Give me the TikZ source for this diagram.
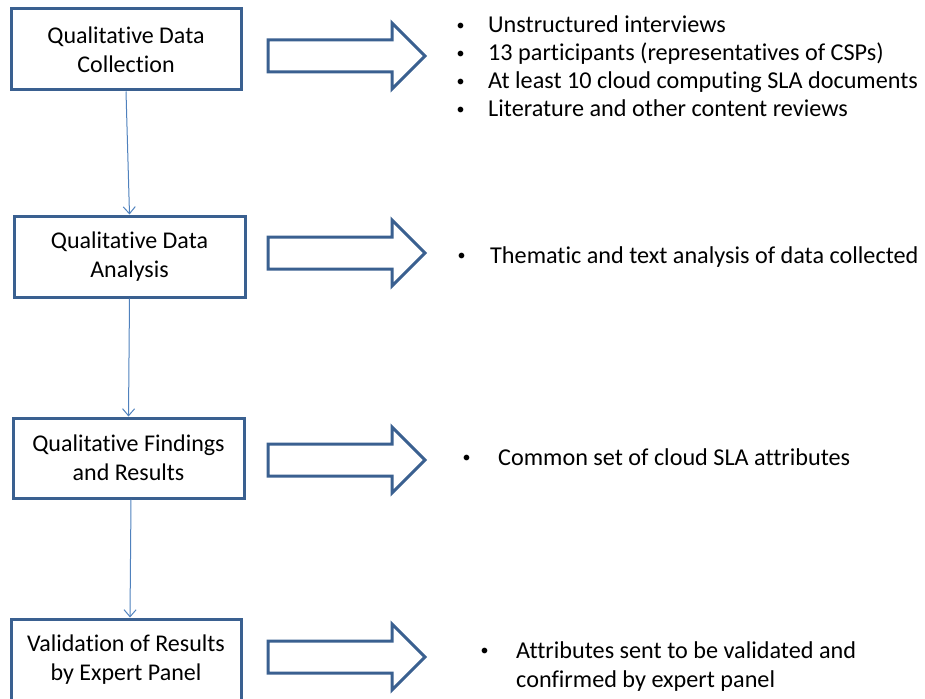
\documentclass[tikz,border=0pt]{standalone}
\usepackage{fontspec}
\setmainfont[Ligatures=NoCommon]{Carlito}
\usetikzlibrary{arrows.meta}
\definecolor{boxline}{HTML}{3A6090}
\definecolor{linkline}{HTML}{4F81BD}
\tikzset{
  stagebox/.style={draw=boxline, line width=3pt, fill=white, align=center,
    inner sep=0pt, font=\fontsize{24}{29}\selectfont},
  link/.style={draw=linkline, line width=1pt, -{Straight Barb[length=7pt,width=12pt]}},
  itemtext/.style={anchor=base west, inner sep=0pt, font=\fontsize{24.2}{29}\selectfont},
  blockarrow/.pic={
    \draw[boxline, line width=3pt, line join=miter, fill=white]
      (268,-16) -- (392,-16) -- (392,-33) -- (425,0) -- (392,33) -- (392,16) -- (268,16) -- cycle;
  }
}
% small bullet set to the left of an item, #1 = distance from bullet to text
\newcommand{\bul}[1]{\llap{\makebox[#1][l]{\raisebox{2.6pt}{\fontsize{16}{16}\selectfont •}}}}
\begin{document}
\begin{tikzpicture}[x=1pt, y=-1pt]
\useasboundingbox (0,0) rectangle (925,698);

% process stages
\node[stagebox, minimum width=230pt, minimum height=81pt] (b1) at (126,49.5)
  {Qualitative Data\\Collection};
\node[stagebox, minimum width=231pt, minimum height=81pt] (b2) at (129.5,256.5)
  {Qualitative Data\\Analysis};
\node[stagebox, minimum width=231pt, minimum height=80pt] (b3) at (128.5,458)
  {Qualitative Findings\\and Results};
\node[stagebox, minimum width=230pt, minimum height=82pt] (b4) at (126,660)
  {Validation of Results\\by Expert Panel};

% flow between stages
\draw[link] (b1.south) -- (b2.north);
\draw[link] (b2.south) -- (b3.north);
\draw[link] ([xshift=2.5pt]b3.south) -- ([xshift=4pt]b4.north);

% block arrows toward the notes
\pic at (0,56) {blockarrow};
\pic at (0,253) {blockarrow};
\pic at (0,460) {blockarrow};
\pic at (0,657) {blockarrow};

% notes for each stage
\node[itemtext] (n11) at (488,33) {\bul{31.5pt}Unstructured interviews};
\node[itemtext] (n12) at (488,61) {\bul{31.5pt}13 participants (representatives of CSPs)};
\node[itemtext] (n13) at (488,89) {\bul{31.5pt}At least 10 cloud computing SLA documents};
\node[itemtext] (n14) at (488,117) {\bul{31.5pt}Literature and other content reviews};

\node[itemtext] (n21) at (490,263) {\bul{32.5pt}Thematic and text analysis of data collected};

\node[itemtext] (n31) at (498,465) {\bul{35.5pt}Common set of cloud SLA attributes};

\node[itemtext] (n41) at (516,658) {\bul{35.5pt}Attributes sent to be validated and};
\node[itemtext] (n42) at (516,687) {confirmed by expert panel};
\end{tikzpicture}
\end{document}
